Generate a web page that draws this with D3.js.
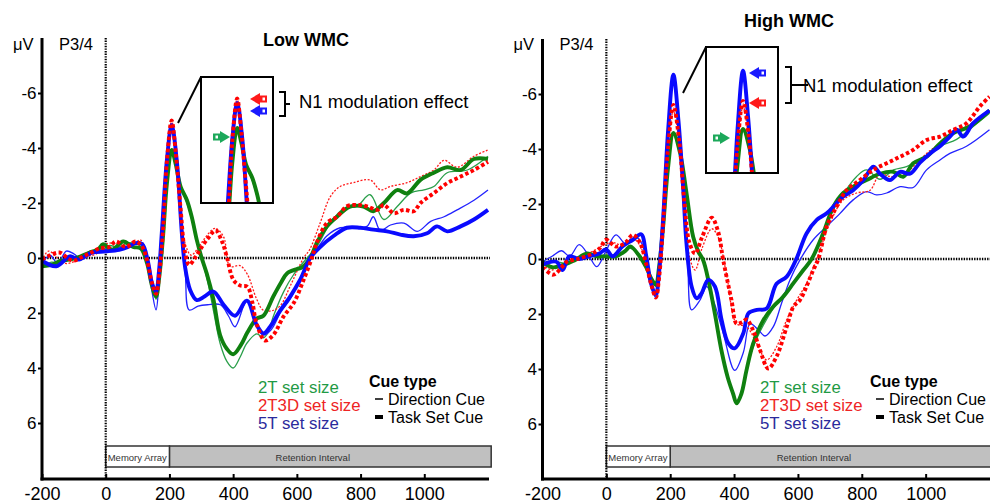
<!DOCTYPE html>
<html>
<head>
<meta charset="utf-8">
<script src="https://cdn.jsdelivr.net/npm/d3@7"></script>
<style>
  body { margin: 0; background: #fff; }
  svg { display: block; font-family: "Liberation Sans", Arial, sans-serif; }
</style>
</head>
<body>
<svg id="chart" width="990" height="504"></svg>
<script>
// ---- data (time in ms, amplitude in microvolts, negative up) ----
const xTicks = [-200, 0, 200, 400, 600, 800, 1000]
const yTicks = [-6, -4, -2, 0, 2, 4, 6]
const setSizes = ['2T set size', '2T3D set size', '5T set size']
const cueTypes = ['Direction Cue', 'Task Set Cue']
const panelTitles = ['Low WMC', 'High WMC']
const electrode = 'P3/4'
const eventLabels = ['Memory Array', 'Retention Interval']

// Low WMC
const low2TDir = [[-200,0.35],[-170,0.15],[-140,0.2],[-110,0.0],[-80,0.05],[-50,-0.25],[-20,-0.2],[10,-0.45],[40,-0.4],[70,-0.55],[100,-0.5],[120,-0.3],[135,0.3],[146,1.0],[158,1.5],[168,0.8],[180,-0.7],[192,-2.7],[207,-3.9],[220,-3.4],[235,-2.6],[255,-2.0],[270,-1.4],[286,-0.6],[300,0],[317,0.7],[338,1.9],[359,3.1],[380,3.75],[400,4.0],[422,3.6],[443,3.1],[474,2.76],[495,2.9],[510,2.7],[526,2.13],[558,1.24],[590,0.6],[632,0],[662,-0.4],[705,-1.27],[747,-1.8],[788,-1.87],[830,-2.3],[873,-1.4],[915,-1.87],[957,-2.36],[999,-2.48],[1030,-2.6],[1072,-3.1],[1135,-3.2],[1200,-3.7]]
const low2TTask = [[-200,0.3],[-170,0.25],[-140,0.1],[-110,0.05],[-80,-0.05],[-50,-0.2],[-25,-0.3],[-8,-0.5],[20,-0.3],[55,-0.6],[86,-0.4],[110,-0.35],[130,0.2],[145,1.0],[158,1.4],[168,0.7],[180,-0.8],[192,-2.7],[207,-3.93],[220,-3.4],[235,-2.6],[255,-2.1],[270,-1.5],[286,-0.65],[300,-0.05],[317,0.56],[338,1.5],[359,2.8],[380,3.3],[400,3.5],[425,3.15],[445,2.7],[474,2.2],[495,2.1],[526,1.4],[550,0.9],[569,0.56],[600,0.4],[615,0.35],[642,0],[662,-0.54],[694,-1.14],[726,-1.5],[767,-1.87],[809,-1.87],[840,-1.7],[873,-2.0],[915,-2.47],[946,-2.35],[988,-2.84],[1030,-3.1],[1072,-3.3],[1114,-3.2],[1156,-3.6],[1200,-3.6]]
const low2T3DDir = [[-200,0.1],[-180,-0.25],[-150,0.0],[-124,0.2],[-93,0.1],[-60,-0.05],[-30,-0.15],[0,-0.5],[30,-0.55],[60,-0.45],[90,-0.55],[110,-0.65],[128,0.0],[145,1.0],[158,1.3],[168,0.6],[180,-1.0],[192,-3.5],[207,-5.0],[220,-3.8],[235,-1.8],[250,-0.5],[268,-0.1],[286,-0.3],[310,-0.7],[343,-1.08],[370,-0.77],[390,0.3],[422,0.28],[445,0.6],[474,1.5],[495,1.9],[527,1.9],[550,1.7],[580,1.0],[621,0],[640,-0.3],[673,-1.27],[705,-2.23],[736,-2.6],[778,-2.74],[830,-2.84],[862,-2.48],[893,-2.6],[946,-2.74],[988,-2.96],[1030,-3.2],[1062,-3.55],[1103,-3.3],[1156,-3.7],[1200,-3.93]]
const low2T3DTask = [[-200,0.05],[-175,-0.1],[-145,-0.2],[-120,0.0],[-103,0.1],[-72,-0.05],[-45,-0.2],[-20,-0.35],[11,-0.4],[32,-0.6],[63,-0.4],[94,-0.6],[115,-0.4],[130,0.1],[145,0.9],[158,1.3],[168,0.6],[180,-1.0],[192,-3.5],[207,-5.0],[220,-3.8],[235,-1.8],[249,-0.2],[262,0.25],[280,0.0],[296,-0.3],[320,-0.7],[345,-1.0],[365,-0.6],[380,-0.05],[401,0.8],[422,1.0],[445,1.05],[460,1.6],[474,2.4],[500,3.0],[526,2.8],[558,2.13],[590,1.64],[621,0.8],[647,0],[662,-0.54],[694,-1.27],[726,-1.5],[757,-1.88],[788,-1.93],[820,-1.88],[852,-1.75],[873,-1.93],[904,-1.63],[936,-1.75],[967,-1.7],[988,-2.0],[1030,-2.36],[1072,-2.72],[1114,-2.96],[1156,-3.2],[1200,-3.5]]
const low5TDir = [[-200,0.2],[-175,-0.1],[-150,0.2],[-124,-0.25],[-100,-0.15],[-75,0.05],[-40,-0.2],[-10,-0.3],[30,-0.35],[60,-0.4],[90,-0.5],[115,-0.55],[132,0.2],[145,1.2],[158,1.89],[167,0.9],[176,-0.7],[192,-3.5],[207,-4.8],[223,-3.5],[239,-0.9],[250,0.6],[262,1.89],[290,1.75],[320,1.7],[360,1.7],[385,2.1],[406,2.5],[443,1.55],[474,2.5],[495,2.8],[520,2.6],[548,2.0],[579,1.5],[610,0.8],[632,0.2],[662,-0.3],[694,-0.8],[736,-1.1],[778,-1.1],[820,-1.15],[840,-1.5],[862,-1.0],[894,-1.2],[936,-1.27],[978,-0.97],[1020,-1.33],[1062,-1.5],[1103,-1.75],[1156,-2.1],[1200,-2.47]]
const low5TTask = [[-200,0.1],[-155,0.3],[-113,-0.06],[-84,0.06],[-60,-0.1],[-42,-0.2],[0,-0.24],[42,-0.3],[70,-0.4],[94,-0.54],[115,-0.5],[132,0.1],[145,0.9],[158,1.22],[167,0.5],[176,-0.9],[192,-3.56],[207,-4.84],[223,-3.56],[239,-0.9],[249,0.32],[265,1.16],[286,1.53],[310,1.4],[338,1.22],[370,1.7],[406,2.1],[443,1.55],[474,2.44],[495,2.74],[516,2.5],[548,1.9],[579,1.4],[610,0.8],[642,0],[673,-0.4],[715,-0.8],[757,-1.1],[799,-1.1],[840,-1.03],[883,-0.97],[925,-0.85],[967,-0.79],[1009,-0.9],[1040,-1.15],[1072,-0.97],[1114,-1.15],[1156,-1.4],[1200,-1.75]]

// High WMC
const high2TDir = [[-200,0.2],[-160,0.1],[-130,0.15],[-100,0.0],[-60,-0.2],[-20,-0.15],[10,-0.05],[40,-0.15],[70,-0.4],[100,-0.2],[125,0.2],[140,0.7],[155,1.0],[165,0.4],[178,-1.1],[193,-3.3],[210,-4.5],[231,-3.8],[251,-2.4],[272,-0.8],[288,-0.3],[303,0.0],[320,0.8],[340,2.0],[360,3.3],[380,4.3],[397,4.9],[408,5.2],[423,4.8],[439,4.0],[460,3.2],[492,2.4],[523,1.8],[554,1.3],[586,0.9],[617,0.4],[643,0.0],[679,-0.9],[711,-1.8],[732,-2.2],[784,-3.0],[815,-3.24],[857,-2.9],[899,-3.24],[940,-3.36],[982,-3.6],[1045,-4.1],[1097,-4.35],[1149,-4.82],[1200,-5.3]]
const high2TTask = [[-200,0.1],[-170,0.3],[-130,0.2],[-100,0.05],[-60,-0.2],[-30,-0.1],[0,-0.1],[30,-0.1],[60,-0.3],[75,-0.46],[104,-0.1],[125,0.3],[140,0.7],[155,0.93],[165,0.3],[178,-1.2],[193,-3.3],[210,-4.58],[231,-3.85],[251,-2.4],[272,-0.8],[288,-0.27],[303,0.04],[320,0.8],[340,2.0],[360,3.3],[380,4.3],[397,4.9],[408,5.25],[423,4.9],[439,4.04],[460,3.07],[492,2.22],[523,1.73],[554,1.37],[586,0.88],[617,0.4],[643,0.0],[679,-0.93],[711,-1.9],[742,-2.4],[773,-2.63],[815,-2.87],[857,-3.1],[899,-3.17],[930,-2.99],[961,-3.48],[1003,-3.72],[1045,-4.2],[1087,-4.58],[1139,-4.82],[1200,-5.4]]
const high2T3DDir = [[-200,0.2],[-170,0.4],[-140,0.2],[-110,0.1],[-80,-0.1],[-40,-0.3],[-10,-0.5],[20,-0.6],[50,-0.5],[80,-0.75],[105,-0.5],[125,0.2],[140,0.9],[155,1.4],[165,0.7],[178,-1.3],[193,-3.9],[210,-5.4],[228,-4.2],[245,-2.0],[262,0.0],[278,0.4],[300,-0.4],[330,-1.1],[350,-0.8],[377,0.6],[408,2.35],[439,2.46],[471,3.07],[502,3.67],[533,3.2],[565,2.2],[596,1.5],[627,0.88],[659,0.0],[700,-1.3],[742,-2.15],[784,-2.4],[826,-2.5],[857,-3.1],[888,-3.0],[930,-3.05],[961,-3.36],[1003,-3.84],[1045,-4.2],[1087,-4.58],[1128,-4.82],[1200,-5.4]]
const high2T3DTask = [[-200,0.3],[-166,0.57],[-140,0.3],[-124,0.1],[-90,0.0],[-43,-0.2],[-20,-0.4],[-1,-0.7],[30,-0.45],[60,-0.6],[83,-0.88],[105,-0.6],[125,0.2],[140,0.9],[155,1.4],[165,0.7],[178,-1.3],[193,-4.0],[210,-5.6],[228,-4.3],[245,-2.0],[260,-0.6],[278,-0.2],[300,-0.8],[330,-1.5],[350,-1.0],[366,0.04],[392,1.5],[408,2.35],[425,2.3],[439,2.2],[460,2.6],[481,3.3],[507,3.98],[533,3.55],[565,2.46],[586,1.73],[606,1.5],[627,1.0],[648,0.4],[664,0.0],[690,-1.18],[721,-1.9],[752,-2.5],[794,-2.87],[836,-3.24],[878,-3.48],[920,-3.72],[961,-3.97],[1003,-4.33],[1045,-4.45],[1087,-4.7],[1128,-4.94],[1170,-5.55],[1200,-5.9]]
const high5TDir = [[-200,0.1],[-170,-0.1],[-140,-0.3],[-115,-0.1],[-85,-0.52],[-54,-0.1],[-30,0.28],[-1,-0.3],[30,-0.88],[61,-0.55],[93,-0.8],[114,-0.5],[128,0.1],[140,1.0],[155,1.4],[165,0.6],[178,-1.5],[193,-4.5],[210,-6.6],[226,-4.9],[241,-2.4],[255,0.3],[267,1.85],[293,1.5],[314,1.0],[335,1.5],[366,2.7],[402,4.05],[429,3.4],[450,2.35],[476,2.58],[497,2.8],[523,2.46],[549,1.6],[575,0.76],[606,0.04],[648,-0.7],[690,-1.18],[732,-1.66],[773,-2.15],[815,-2.45],[846,-2.33],[878,-2.4],[920,-2.63],[961,-2.6],[1003,-3.24],[1045,-3.6],[1076,-3.84],[1128,-4.1],[1200,-4.7]]
const high5TTask = [[-200,0.2],[-157,0.1],[-137,0.4],[-116,-0.1],[-85,0.0],[-54,-0.1],[-22,-0.2],[-1,-0.35],[20,-0.1],[51,-0.46],[83,-0.7],[109,-0.9],[125,-0.1],[140,0.9],[155,1.31],[165,0.5],[178,-1.5],[193,-4.6],[210,-6.7],[226,-5.0],[241,-2.5],[251,-0.56],[267,1.0],[283,1.43],[298,1.25],[319,0.76],[340,1.0],[361,2.22],[382,3.07],[402,3.25],[429,2.7],[445,1.97],[471,1.85],[502,1.8],[533,0.9],[565,0.64],[595,0.0],[627,-0.93],[659,-1.42],[690,-1.66],[721,-2.03],[742,-2.27],[773,-2.5],[805,-2.87],[836,-3.36],[857,-3.1],[888,-2.87],[920,-3.17],[951,-3.1],[982,-3.5],[1014,-3.84],[1045,-4.1],[1076,-4.45],[1097,-4.7],[1118,-4.45],[1149,-4.94],[1200,-5.4]]

const lowSeries = [
  { set: 0, cue: 0, values: low2TDir },
  { set: 2, cue: 0, values: low5TDir },
  { set: 1, cue: 0, values: low2T3DDir },
  { set: 0, cue: 1, values: low2TTask },
  { set: 2, cue: 1, values: low5TTask },
  { set: 1, cue: 1, values: low2T3DTask }
]
const highSeries = [
  { set: 0, cue: 0, values: high2TDir },
  { set: 2, cue: 0, values: high5TDir },
  { set: 1, cue: 0, values: high2T3DDir },
  { set: 0, cue: 1, values: high2TTask },
  { set: 2, cue: 1, values: high5TTask },
  { set: 1, cue: 1, values: high2T3DTask }
]

// ---- styles ----
const lineColors = [['#2a9f4a', '#0f800f'], ['#ff1a1a', '#ff0000'], ['#2323ff', '#0a0aff']]
const textColors = ['#1f9a45', '#ee2424', '#2a2a9c']
const arrowColors = ['#1ca85a', '#ff1a1a', '#1a1aff']

const svg = d3.select('#chart')

const panels = [
  {
    title: panelTitles[0], series: lowSeries,
    xRange: [42, 488], yRange: [38, 478], axisY: 479,
    titleX: 306, titleY: 46,
    inset: { x: 201, y: 77, w: 72, h: 126, dx: 65.5, dy: -22, from: [178, 123] },
    arrows: [[250, 99, -1, 1], [250, 111, -1, 2], [230, 137, 1, 0]],
    bracket: 'M279,92H285V116H279M285,104H290',
    n1X: 299, n1Y: 108,
    legendX: 258, cueX: 369, retentionEnd: 1210
  },
  {
    title: panelTitles[1], series: highSeries,
    xRange: [542.5, 989.5], yRange: [39, 479], axisY: 479,
    titleX: 789, titleY: 27,
    inset: { x: 706, y: 47, w: 72, h: 126, dx: 69.6, dy: -4, from: [683, 93] },
    arrows: [[749, 73, -1, 2], [749, 103, -1, 1], [730, 138, 1, 0]],
    bracket: 'M785,67H791V103H785M791,85H808',
    n1X: 803, n1Y: 92,
    legendX: 760, cueX: 870, retentionEnd: 1300
  }
]

function styleLine(sel, s) {
  const thick = s.cue === 1
  sel
    .attr('fill', 'none')
    .attr('stroke', lineColors[s.set][s.cue])
    .attr('stroke-width', thick ? 3.9 : 1.3)
    .attr('stroke-linejoin', 'round')
  if (s.set === 1) {
    sel.attr('stroke-dasharray', thick ? '3.5,2.5' : '2,1.6')
  }
}

function drawArrow(g, tipX, y, dir, color) {
  const b = tipX - dir * 10
  g.append('path')
    .attr('d', `M${tipX},${y}L${b},${y - 6}L${b},${y + 6}Z`)
    .attr('fill', color)
  const sx = Math.min(b, b - dir * 7)
  g.append('rect')
    .attr('x', sx).attr('y', y - 3.5)
    .attr('width', 7).attr('height', 7)
    .attr('fill', color)
  g.append('rect')
    .attr('x', sx + 2.5).attr('y', y - 1.5)
    .attr('width', 2.5).attr('height', 3)
    .attr('fill', '#fff')
}

panels.forEach((p, i) => {
  const x = d3.scaleLinear().domain([-200, 1200]).range(p.xRange)
  const y = d3.scaleLinear().domain([-8, 8]).range(p.yRange)
  const g = svg.append('g')

  const line = d3.line()
    .x(d => x(d[0]))
    .y(d => y(d[1]))
    .curve(d3.curveCatmullRom.alpha(0.5))

  // event bar
  const barY = 446, barH = 21
  g.append('rect')
    .attr('x', x(200)).attr('y', barY)
    .attr('width', x(p.retentionEnd) - x(200)).attr('height', barH)
    .attr('fill', '#c0c0c0').attr('stroke', '#333').attr('stroke-width', 1.5)
  g.append('rect')
    .attr('x', x(0)).attr('y', barY)
    .attr('width', x(200) - x(0)).attr('height', barH)
    .attr('fill', '#fff').attr('stroke', '#333').attr('stroke-width', 1.5)
  g.append('text')
    .attr('x', x(0) + 2).attr('y', barY + 14.5)
    .attr('font-size', 9.5).attr('fill', '#333')
    .text(eventLabels[0])
  g.append('text')
    .attr('x', x(650)).attr('y', barY + 14.5)
    .attr('text-anchor', 'middle')
    .attr('font-size', 9.5).attr('fill', '#333')
    .text(eventLabels[1])

  // dotted reference lines
  g.append('line')
    .attr('x1', x(-200)).attr('x2', x(1200) + 2)
    .attr('y1', y(0)).attr('y2', y(0))
    .attr('stroke', '#000').attr('stroke-width', 2.5)
    .attr('stroke-dasharray', '1.4,1.2')
  g.append('line')
    .attr('x1', x(0)).attr('x2', x(0))
    .attr('y1', y(-8)).attr('y2', y(8))
    .attr('stroke', '#000').attr('stroke-width', 2.2)
    .attr('stroke-dasharray', '1.4,1.2')

  // waveforms
  p.series.forEach(s => {
    g.append('path').datum(s.values).attr('d', line).call(styleLine, s)
  })

  // axes
  const yAxis = g.append('g')
    .attr('transform', `translate(${x(-200)},0)`)
    .call(d3.axisLeft(y).tickValues(yTicks).tickSize(4).tickSizeOuter(0)
      .tickPadding(1.5).tickFormat(d => String(d)))
  const xAxis = g.append('g')
    .attr('transform', `translate(0,${p.axisY})`)
    .call(d3.axisBottom(x).tickValues(xTicks).tickSizeInner(-5).tickSizeOuter(0)
      .tickPadding(8.5).tickFormat(d => String(d)))
  ;[yAxis, xAxis].forEach(a => {
    a.attr('font-family', null)
    a.select('.domain').attr('stroke-width', 3)
    a.selectAll('.tick line').attr('stroke-width', 2)
    a.selectAll('.tick text').attr('fill', '#000')
  })
  yAxis.attr('font-size', 17)
  xAxis.attr('font-size', 18)
  yAxis.select('.domain').attr('d', `M0,${y(-8)}V${p.axisY + 1.5}`)
  xAxis.select('.domain').attr('d', `M${x(-200) - 1.5},0H${x(1200) + 1}`)

  // labels
  g.append('text').attr('x', x(-200) - 29).attr('y', 50)
    .attr('font-size', 16.5).text('\u03bcV')
  g.append('text').attr('x', x(-200) + 17).attr('y', 50)
    .attr('font-size', 16.5).text(electrode)
  g.append('text').attr('x', p.titleX).attr('y', p.titleY)
    .attr('text-anchor', 'middle').attr('font-size', 18)
    .attr('font-weight', 'bold').text(p.title)

  // inset with magnified peak
  const ins = p.inset
  g.append('line')
    .attr('x1', ins.from[0]).attr('y1', ins.from[1])
    .attr('x2', ins.x).attr('y2', ins.y)
    .attr('stroke', '#000').attr('stroke-width', 2)
  g.append('rect')
    .attr('x', ins.x).attr('y', ins.y).attr('width', ins.w).attr('height', ins.h)
    .attr('fill', '#fff')
  const clipId = 'inset-clip-' + i
  g.append('clipPath').attr('id', clipId)
    .append('rect')
    .attr('x', ins.x).attr('y', ins.y).attr('width', ins.w).attr('height', ins.h)
  const insG = g.append('g').attr('clip-path', `url(#${clipId})`)
    .append('g').attr('transform', `translate(${ins.dx},${ins.dy})`)
  p.series.forEach(s => {
    insG.append('path').datum(s.values).attr('d', line).call(styleLine, s)
  })
  g.append('rect')
    .attr('x', ins.x).attr('y', ins.y).attr('width', ins.w).attr('height', ins.h)
    .attr('fill', 'none').attr('stroke', '#000').attr('stroke-width', 2)

  p.arrows.forEach(a => drawArrow(g, a[0], a[1], a[2], arrowColors[a[3]]))

  g.append('path').attr('d', p.bracket)
    .attr('fill', 'none').attr('stroke', '#000').attr('stroke-width', 2)
  g.append('text').attr('x', p.n1X).attr('y', p.n1Y)
    .attr('font-size', 18.5).text('N1 modulation effect')

  // legend
  setSizes.forEach((name, k) => {
    g.append('text')
      .attr('x', p.legendX).attr('y', 393 + k * 18)
      .attr('font-size', 16.8).attr('fill', textColors[k])
      .text(name)
  })
  g.append('text').attr('x', p.cueX).attr('y', 387)
    .attr('font-size', 16).attr('font-weight', 'bold').text('Cue type')
  cueTypes.forEach((name, k) => {
    g.append('line')
      .attr('x1', p.cueX + 6).attr('x2', p.cueX + 14)
      .attr('y1', 399 + k * 18).attr('y2', 399 + k * 18)
      .attr('stroke', '#000').attr('stroke-width', k ? 4 : 1.5)
    g.append('text')
      .attr('x', p.cueX + 19).attr('y', 405 + k * 18)
      .attr('font-size', 16).text(name)
  })
})
</script>
</body>
</html>
